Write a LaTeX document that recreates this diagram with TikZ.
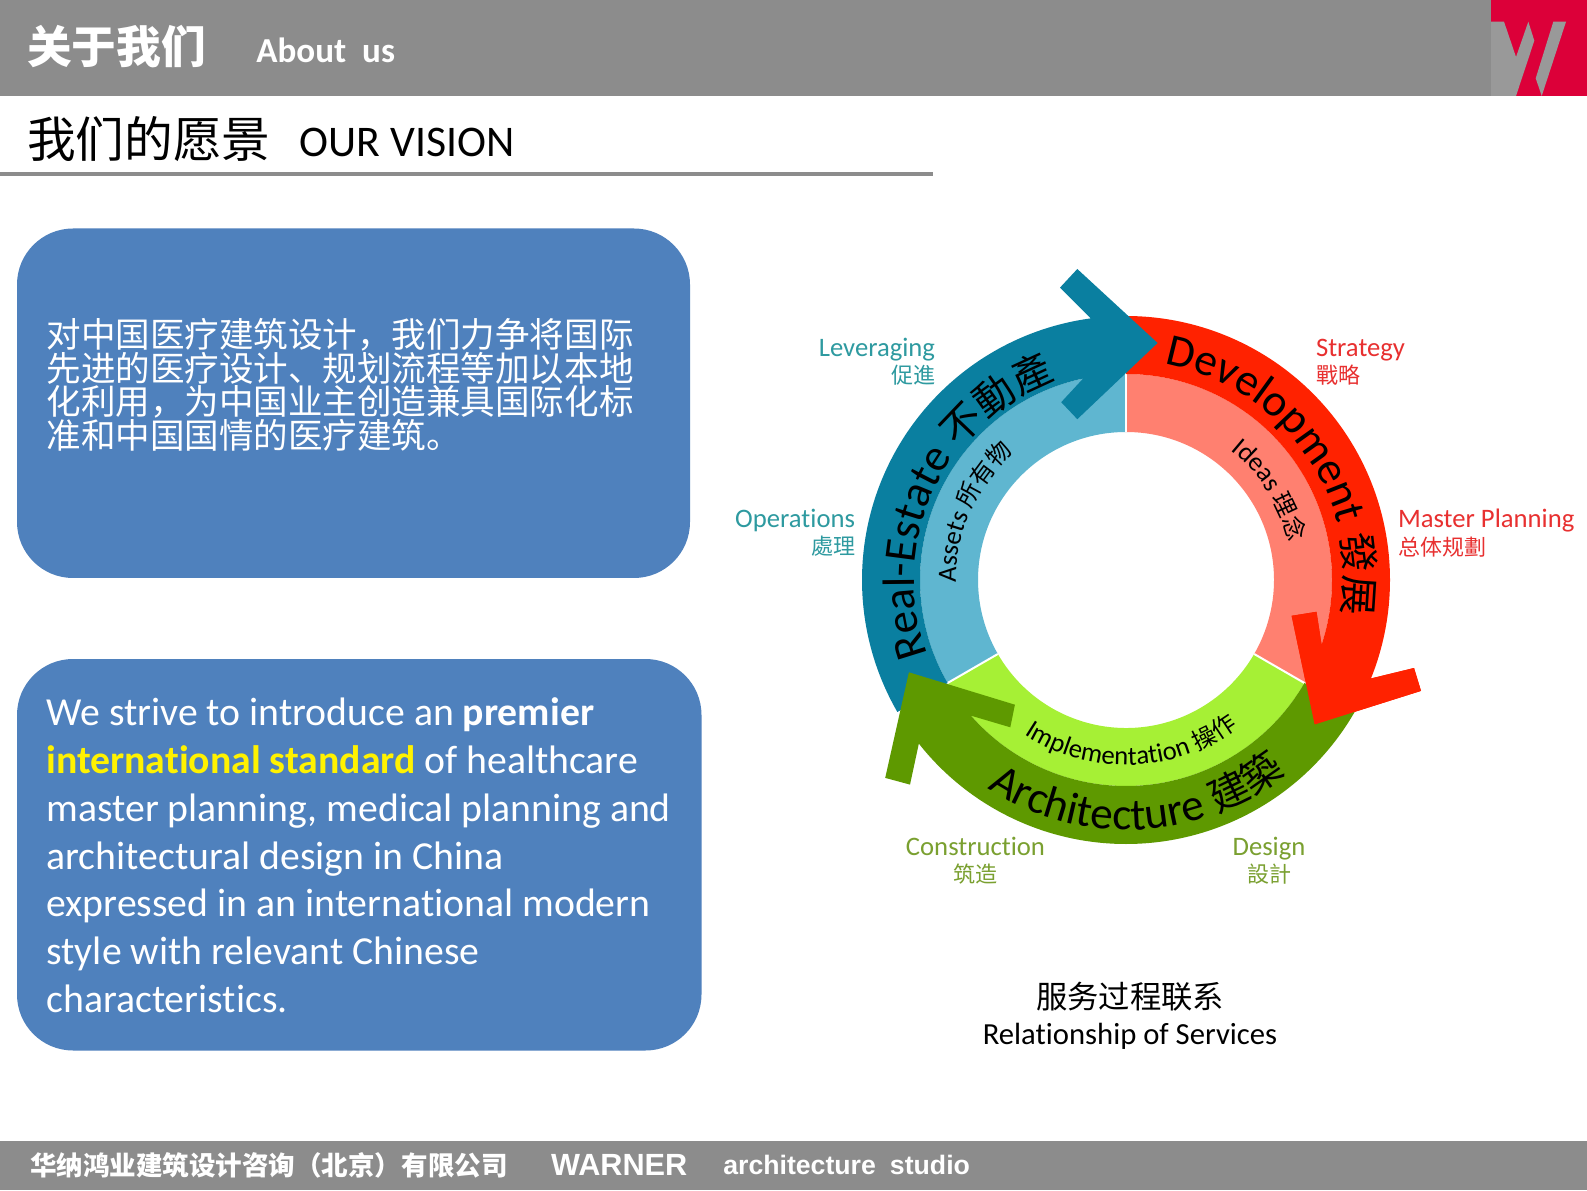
\documentclass[tikz,border=0pt]{standalone}
\usepackage{fontspec}
\setmainfont[Ligatures=NoCommon]{Carlito}
\newfontfamily\cjk{Noto Sans CJK SC}
\newfontfamily\arial{Liberation Sans}
\usepackage {tikz}
\usetikzlibrary {positioning}
\usetikzlibrary{decorations.text}
\definecolor{barGray}{HTML}{8C8C8C}
\definecolor{logoRed}{HTML}{DC0039}
\definecolor{logoGray}{HTML}{999999}
\definecolor{boxBlue}{HTML}{4F81BD}
\definecolor{estateDark}{HTML}{0A7FA0}
\definecolor{estateLight}{HTML}{5FB6D0}
\definecolor{devDark}{HTML}{FF2200}
\definecolor{devLight}{HTML}{FF8070}
\definecolor{archDark}{HTML}{5E9900}
\definecolor{archLight}{HTML}{A6F035}
\definecolor{estateText}{HTML}{2E9AA0}
\definecolor{devText}{HTML}{E83030}
\definecolor{archText}{HTML}{7AA030}
\newcommand{\bigring}{\fontsize{34}{34}\selectfont}
\newcommand{\bigcjk}{\cjk\fontsize{30}{30}\selectfont}
\newcommand{\smallring}{\fontsize{20}{20}\selectfont}
\newcommand{\smallcjk}{\cjk\fontsize{18}{18}\selectfont}
\newcommand{\labelcjk}{\cjk\fontsize{16.5}{16.5}\selectfont}
\tikzset{
	plain/.style = {inner sep=0pt, outer sep=0pt},
	bluebox/.style = {fill=boxBlue, rounded corners=42pt},
	sidelabel/.style = {plain, font=\fontsize{20}{20.5}\selectfont},
	ringtext/.style = {decorate, decoration={text along path, text align=center, text={#1}}}
}
\begin{document}
\begin{tikzpicture}[x=0.75pt, y=0.75pt,
	headline/.style = {plain, text=white},
	footline/.style = {plain, text=white, font=\arial\bfseries}
	]
	\useasboundingbox (0,0) rectangle (1587,1190);
	\fill[white] (0,0) rectangle (1587,1190);
	% bars
	\fill[barGray] (0,1094) rectangle (1587,1190);
	\fill[barGray] (0,0) rectangle (1587,49.5);
	\fill[logoRed] (1491,1094) rectangle (1587,1190);
	\fill[logoGray] (1491,1168.3) -- (1504,1168.3) -- (1516,1133) -- (1528.3,1168.3) -- (1534.3,1149.3) -- (1516,1094) -- (1491,1094) -- cycle;
	\fill[logoGray] (1553.3,1168.3) -- (1566,1168.3) -- (1541.7,1094) -- (1535.7,1111.7) -- cycle;
	\draw[barGray, line width=2.4pt] (0,1016) -- (933,1016);
	% header
	\node (HeadCn) [headline, anchor=west, font=\cjk\bfseries\fontsize{33.5}{33.5}\selectfont] at (27,1143) {关于我们};
	\node (HeadEn) [headline, right = 38pt of HeadCn, yshift=-2.5pt, font=\bfseries\fontsize{26.3}{26.3}\selectfont] {About\hspace{6pt} us};
	\node (VisionCn) [plain, anchor=west, font=\cjk\fontsize{36.5}{36.5}\selectfont] at (27,1051) {我们的愿景};
	\node (VisionEn) [plain, right = 22pt of VisionCn, yshift=-2.5pt, font=\fontsize{32.8}{32.8}\selectfont] {OUR VISION};
	% boxes
	\fill[bluebox] (17,612) rectangle (690,961.5);
	\fill[bluebox] (17,139.5) rectangle (701.5,531);
	\node (BoxCn) [plain, anchor=north west, align=left, text=white, font=\cjk\fontsize{25.9}{24.5}\selectfont] at (46.5,872) {对中国医疗建筑设计，我们力争将国际\\先进的医疗设计、规划流程等加以本地\\化利用，为中国业主创造兼具国际化标\\准和中国国情的医疗建筑。};
	\node (BoxEn) [plain, anchor=north west, align=left, text=white, font=\fontsize{29.8}{35.8}\selectfont] at (46.5,492) {We strive to introduce an \textbf{premier}\\\textbf{\textcolor{yellow}{international standard}} of healthcare\\master planning, medical planning and\\architectural design in China\\expressed in an international modern\\style with relevant Chinese\\characteristics.};
	% ring
	\begin{scope}[shift={(1126,610)}]
		\fill[devLight] (90:148) arc[start angle=90, end angle=-30, radius=148] -- (-30:206) arc[start angle=-30, end angle=90, radius=206] -- cycle;
		\fill[estateLight] (90:148) arc[start angle=90, end angle=210, radius=148] -- (210:206) arc[start angle=210, end angle=90, radius=206] -- cycle;
		\fill[archLight] (210:148) arc[start angle=210, end angle=330, radius=148] -- (330:206) arc[start angle=330, end angle=210, radius=206] -- cycle;
		\draw[white, line width=1.5pt] (90:148) -- (90:206);
		\draw[white, line width=1.5pt] (210:148) -- (210:206);
		\draw[white, line width=1.5pt] (330:148) -- (330:206);
		\fill[devDark] (90:264) arc[start angle=90, end angle=-21.9, radius=264] -- (288,-88) -- (295,-110.9) -- (188.6,-144.5) -- (165.6,-35.8) -- (190.5,-31.8) -- (-18.3:206) arc[start angle=-18.3, end angle=90, radius=206] -- cycle;
		\fill[estateDark] (210:264) arc[start angle=210, end angle=97.7, radius=264] -- (-66,292.4) -- (-48.7,311) -- (31.6,237) -- (-48.7,160.8) -- (-64.8,177.8) -- (102:206) arc[start angle=102, end angle=210, radius=206] -- cycle;
		\fill[archDark] (330:264) arc[start angle=330, end angle=218.3, radius=264] -- (-216,-204.6) -- (-240.8,-197.9) -- (-217.1,-92.3) -- (-111.1,-124.7) -- (-115.7,-147.3) -- (221.2:206) arc[start angle=221.2, end angle=330, radius=206] -- cycle;
		\fill[devDark] (-21.9:264) -- (288,-88) -- (295,-110.9) -- (188.6,-144.5) -- (165.6,-35.8) -- (190.5,-31.8) -- (-18.3:206) -- cycle;
		% text on the ring
		\path[ringtext={|\bigring|Development |\bigcjk|發展}] (105.5:219) arc[start angle=105.5, end angle=-34.5, radius=219];
		\path[ringtext={|\bigring|Real-Estate |\bigcjk|不動產}] (225:212) arc[start angle=225, end angle=85, radius=212];
		\path[ringtext={|\bigring|Architecture |\bigcjk|建築}] (200:250) arc[start angle=200, end angle=346, radius=250];
		\path[ringtext={|\smallring|Implementation |\smallcjk|操作}] (205:185) arc[start angle=205, end angle=339, radius=185];
		\path[ringtext={|\smallring|Ideas |\smallcjk|理念}] (62:167) arc[start angle=62, end angle=2, radius=167];
		\path[ringtext={|\smallring|Assets |\smallcjk|所有物}] (190:170) arc[start angle=190, end angle=122, radius=170];
	\end{scope}
	% labels round the ring
	\node (Leveraging) [sidelabel, anchor=east, align=right, text=estateText] at (935,828) {Leveraging\\{\labelcjk 促進}};
	\node (Operations) [sidelabel, anchor=east, align=right, text=estateText] at (855,657) {Operations\\{\labelcjk 處理}};
	\node (Strategy) [sidelabel, anchor=west, align=left, text=devText] at (1316,828) {Strategy\\{\labelcjk 戰略}};
	\node (Master) [sidelabel, anchor=west, align=left, text=devText] at (1398,657) {Master Planning\\{\labelcjk 总体规劃}};
	\node (Construction) [sidelabel, align=center, text=archText] at (975.5,329) {Construction\\{\labelcjk 筑造}};
	\node (Design) [sidelabel, align=center, text=archText] at (1269,329) {Design\\{\labelcjk 設計}};
	% caption
	\node (CaptionCn) [plain, font=\cjk\fontsize{23.5}{23.5}\selectfont] at (1130,193) {服务过程联系};
	\node (CaptionEn) [plain, below = 9pt of CaptionCn, font=\fontsize{23}{23}\selectfont] {Relationship of Services};
	% footer
	\node (FootCn) [footline, anchor=west, font=\cjk\bfseries\fontsize{19.9}{19.9}\selectfont] at (30,25) {华纳鸿业建筑设计咨询（北京）有限公司};
	\node (FootName) [footline, anchor=west, font=\arial\bfseries\fontsize{23}{23}\selectfont] at (551,25) {WARNER};
	\node (FootStudio) [footline, right = 27pt of FootName, font=\arial\bfseries\fontsize{20}{20}\selectfont] {architecture\hspace{5pt} studio};
\end{tikzpicture}
\end{document}
